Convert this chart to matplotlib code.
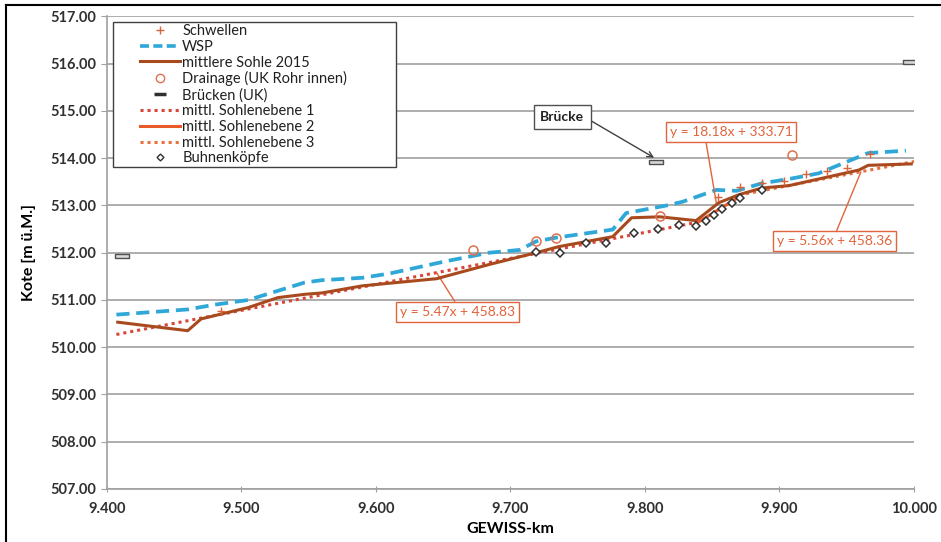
import numpy as np
import matplotlib
matplotlib.use("Agg")
import matplotlib.pyplot as plt
from matplotlib.lines import Line2D
from matplotlib.patches import Rectangle

plt.rcParams['font.family'] = ['Lato', 'DejaVu Sans']

# Daten
# mittlere Sohle 2015
sohle_x = [9.408, 9.460, 9.470, 9.505, 9.527, 9.547, 9.560, 9.590, 9.645, 9.684, 9.719,
           9.736, 9.776, 9.790, 9.811, 9.838, 9.855, 9.870, 9.887, 9.907, 9.959, 9.966, 9.998]
sohle_y = [510.53, 510.35, 510.60, 510.84, 511.05, 511.12, 511.15, 511.30, 511.45, 511.75, 512.00,
           512.13, 512.34, 512.74, 512.76, 512.68, 513.06, 513.23, 513.37, 513.42, 513.75, 513.85, 513.88]

# WSP
wsp_x = [9.407, 9.460, 9.480, 9.505, 9.547, 9.560, 9.590, 9.610, 9.652, 9.684, 9.707, 9.719,
         9.734, 9.776, 9.786, 9.818, 9.828, 9.853, 9.868, 9.887, 9.907, 9.929, 9.966, 9.994]
wsp_y = [510.69, 510.80, 510.90, 511.00, 511.37, 511.42, 511.47, 511.56, 511.82, 512.00, 512.06, 512.24,
         512.32, 512.49, 512.84, 513.01, 513.08, 513.33, 513.31, 513.47, 513.56, 513.68, 514.11, 514.16]

# Schwellen
schw_x = [9.485, 9.854, 9.871, 9.887, 9.903, 9.920, 9.935, 9.950, 9.967]
schw_y = [510.77, 513.19, 513.40, 513.48, 513.52, 513.66, 513.72, 513.79, 514.09]

# Drainage (UK Rohr innen)
drain_x = [9.672, 9.719, 9.734, 9.811, 9.909]
drain_y = [512.06, 512.25, 512.32, 512.78, 514.07]

# Brücken (UK)
bruecke_x = [9.411, 9.808, 9.997]
bruecke_y = [511.93, 513.93, 516.04]

# Buhnenköpfe
buhne_x = [9.719, 9.737, 9.756, 9.771, 9.792, 9.810, 9.825, 9.838, 9.845, 9.851, 9.857, 9.865, 9.871, 9.887]
buhne_y = [512.02, 512.00, 512.21, 512.21, 512.42, 512.51, 512.59, 512.56, 512.68, 512.80, 512.92, 513.05, 513.16, 513.33]

# mittlere Sohlenebenen (Trendlinien)
ebene1_x = [9.407, 9.840]
ebene1_y = [510.27, 512.65]
ebene2_x = [9.838, 9.870]
ebene2_y = [512.62, 513.18]
ebene3_x = [9.870, 10.000]
ebene3_y = [513.22, 513.93]

xticks = [9.4, 9.5, 9.6, 9.7, 9.8, 9.9, 10.0]
yticks = [507, 508, 509, 510, 511, 512, 513, 514, 515, 516, 517]

fig = plt.figure(figsize=(9.41, 5.42), dpi=100)
ax = fig.add_axes([0.1137, 0.0978, 0.8576, 0.8718])

bridge_marker = [(-1.6, -0.5), (1.6, -0.5), (1.6, 0.5), (-1.6, 0.5), (-1.6, -0.5)]

ax.plot(schw_x, schw_y, linestyle='none', marker='+', color='#D8643C', markersize=6,
        markeredgewidth=1.0, zorder=5)
ax.plot(wsp_x, wsp_y, linestyle=(0, (3.5, 1.8)), color='#2FA8D8', lw=2.7, zorder=3)
ax.plot(sohle_x, sohle_y, color='#A84A1E', lw=2.2, zorder=4)
ax.plot(drain_x, drain_y, linestyle='none', marker='o', markerfacecolor='none',
        markeredgecolor='#E07050', markersize=6.5, markeredgewidth=1.1, zorder=5)
ax.plot(bruecke_x, bruecke_y, linestyle='none', marker=bridge_marker, markersize=10,
        markerfacecolor='#D8D8D8', markeredgecolor='#505050', markeredgewidth=1.0, zorder=5)
ax.plot(ebene1_x, ebene1_y, linestyle=(0, (1, 1.3)), color='#D8463A', lw=2.2, zorder=3)
ax.plot(ebene2_x, ebene2_y, color='#E85A2A', lw=2.2, zorder=4)
ax.plot(ebene3_x, ebene3_y, linestyle=(0, (1, 1.3)), color='#E8703A', lw=2.2, zorder=3)
ax.plot(buhne_x, buhne_y, linestyle='none', marker='D', markersize=4, markerfacecolor='white',
        markeredgecolor='#303030', markeredgewidth=1.1, zorder=6)

ax.set_xlim(9.4, 10.0)
ax.set_ylim(507, 517)
ax.set_xticks(xticks)
ax.set_xticklabels([f"{v:.3f}" for v in xticks])
ax.set_yticks(yticks)
ax.set_yticklabels([f"{v:.2f}" for v in yticks])
ax.grid(axis='y', color='#A0A0A0', lw=1.2)
ax.set_axisbelow(True)
for s in ['top', 'right']:
    ax.spines[s].set_visible(False)
for s in ['left', 'bottom']:
    ax.spines[s].set_color('#A0A0A0')
    ax.spines[s].set_linewidth(1.2)
ax.tick_params(axis='y', direction='out', length=4, color='#A0A0A0', labelsize=10.5,
               labelcolor='#303030', pad=4)
ax.tick_params(axis='x', direction='inout', length=5, color='#A0A0A0', labelsize=10.5,
               labelcolor='#303030', pad=7)
for lbl in ax.get_xticklabels() + ax.get_yticklabels():
    lbl.set_fontweight('bold')

ax.set_ylabel('Kote [m ü.M.]', fontsize=11.5, fontweight='bold', labelpad=10)
ax.set_xlabel('GEWISS-km', fontsize=11.5, fontweight='bold', labelpad=4)

# Legende
handles = [
    Line2D([], [], linestyle='none', marker='+', color='#D8643C', markersize=6),
    Line2D([], [], linestyle=(0, (2.5, 1.2)), color='#2FA8D8', lw=2.6),
    Line2D([], [], color='#A84A1E', lw=2.2),
    Line2D([], [], linestyle='none', marker='o', markerfacecolor='none',
           markeredgecolor='#E07050', markersize=6),
    Line2D([], [], linestyle='none', marker='_', color='#303030', markersize=8, markeredgewidth=2.5),
    Line2D([], [], linestyle=(0, (1, 1.3)), color='#D8463A', lw=2.2),
    Line2D([], [], color='#E85A2A', lw=2.2),
    Line2D([], [], linestyle=(0, (1, 1.3)), color='#E8703A', lw=2.2),
    Line2D([], [], linestyle='none', marker='D', markersize=3.5, markerfacecolor='white',
           markeredgecolor='#303030', markeredgewidth=1.0),
]
labels = ['Schwellen', 'WSP', 'mittlere Sohle 2015', 'Drainage (UK Rohr innen)', 'Brücken (UK)',
          'mittl. Sohlenebene 1', 'mittl. Sohlenebene 2', 'mittl. Sohlenebene 3', 'Buhnenköpfe']
ax.add_patch(Rectangle((0.0074, 0.6815), 0.3507, 0.3065, transform=ax.transAxes,
                       facecolor='white', edgecolor='#404040', lw=1.0, zorder=9))
leg = ax.legend(handles, labels, loc='upper left', bbox_to_anchor=(0.0409, 0.984),
                borderaxespad=0, fontsize=10.5, labelspacing=0.12,
                handlelength=2.74, handletextpad=0.15, borderpad=0, frameon=False)
for t in leg.get_texts():
    t.set_color('#202020')
leg.set_zorder(10)

# Beschriftungen
ax.annotate('Brücke', xy=(9.8068, 514.01), xytext=(9.7385, 514.875), fontsize=10,
            fontweight='bold', color='#222222', ha='center', va='center',
            bbox=dict(boxstyle='square,pad=0.45', fc='white', ec='#505050', lw=1.0),
            arrowprops=dict(arrowstyle='->', color='#404040', lw=1.0, relpos=(1.0, 0.5),
                            shrinkA=0, shrinkB=0))

eq_color = '#E0643C'
ax.annotate('y = 18.18x + 333.71', xy=(9.853, 513.06), xytext=(9.864, 514.56), fontsize=10,
            color=eq_color, ha='center', va='center',
            bbox=dict(boxstyle='square,pad=0.28', fc='white', ec=eq_color, lw=1.0),
            arrowprops=dict(arrowstyle='-', color=eq_color, lw=1.0, relpos=(0.29, 0.0),
                            shrinkA=0, shrinkB=0))
ax.annotate('y = 5.56x + 458.36', xy=(9.9605, 513.71), xytext=(9.9412, 512.25), fontsize=10,
            color=eq_color, ha='center', va='center',
            bbox=dict(boxstyle='square,pad=0.28', fc='white', ec=eq_color, lw=1.0),
            arrowprops=dict(arrowstyle='-', color=eq_color, lw=1.0, relpos=(0.5, 1.0),
                            shrinkA=0, shrinkB=0))
ax.annotate('y = 5.47x + 458.83', xy=(9.645, 511.58), xytext=(9.6606, 510.75), fontsize=10,
            color=eq_color, ha='center', va='center',
            bbox=dict(boxstyle='square,pad=0.28', fc='white', ec=eq_color, lw=1.0),
            arrowprops=dict(arrowstyle='-', color=eq_color, lw=1.0, relpos=(0.5, 1.0),
                            shrinkA=0, shrinkB=0))

# Rahmen oben und links
fig.add_artist(Line2D([6 / 941, 6 / 941], [0, 1 - 5 / 542], color='black', lw=1.5))
fig.add_artist(Line2D([6 / 941, 1], [1 - 5 / 542, 1 - 5 / 542], color='black', lw=1.5))

fig.savefig('out.png', dpi=100)
